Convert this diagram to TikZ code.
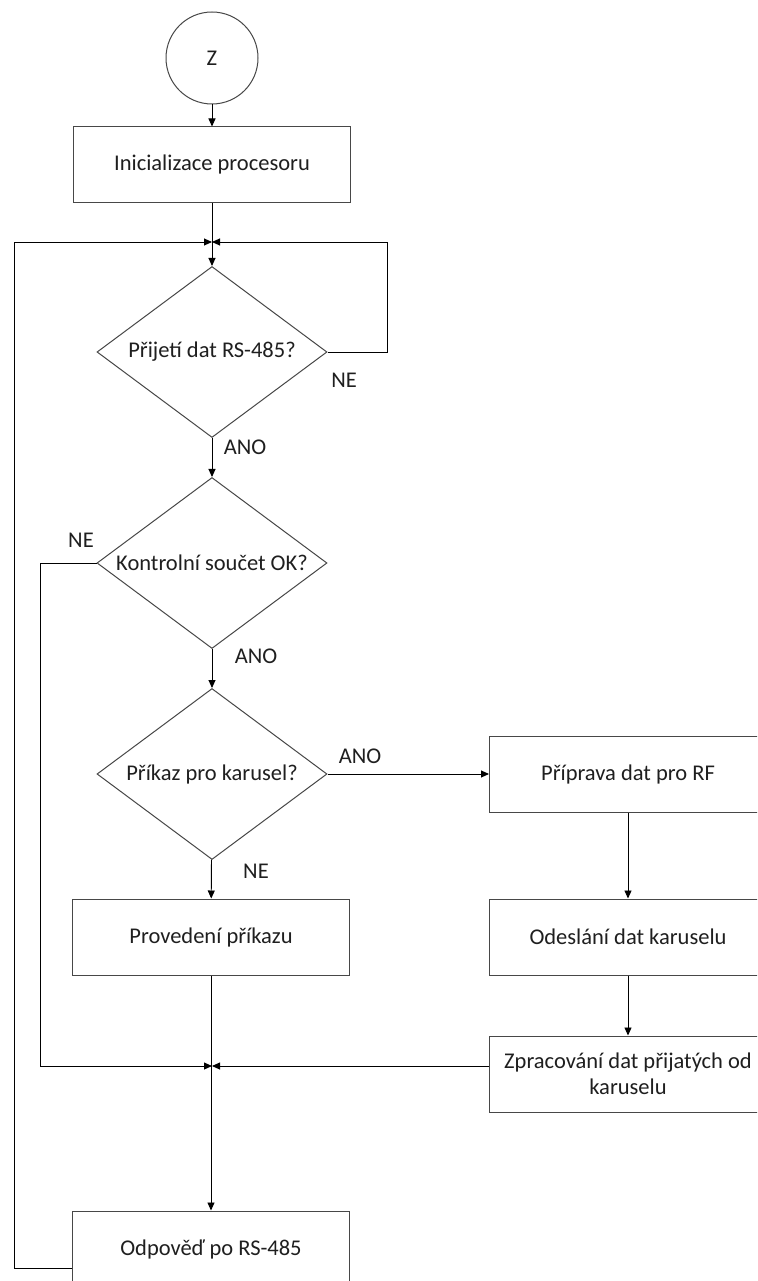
\documentclass[tikz,border=0pt]{standalone}
\usepackage{fontspec}
\setmainfont{Carlito}
\usetikzlibrary{shapes.geometric,arrows.meta,calc}

\tikzset{
  shapeline/.style={draw=black!72, line width=1pt},
  stepbox/.style={shapeline, rectangle, minimum width=277pt, minimum height=76pt,
    inner sep=2pt, align=center, text=black!88},
  decision/.style={shapeline, diamond, minimum width=230pt, minimum height=171pt,
    inner sep=0pt, aspect=1.35, text=black!88},
  terminal/.style={shapeline, circle, minimum size=92pt, inner sep=0pt, text=black!88},
  flow/.style={draw=black, line width=0.9pt, -{Triangle[length=8pt,width=7pt]}},
  lbl/.style={text=black!88, inner sep=0pt},
}

\begin{document}
\begin{tikzpicture}[x=1pt, y=-1pt, font=\fontsize{22.5pt}{26pt}\selectfont]
  \clip (0,0) rectangle (757,1281);
  \fill[white] (0,0) rectangle (757,1281);

  % main column
  \node[terminal] (z) at (212,58) {Z};
  \node[stepbox] (init) at (212,165) {Inicializace procesoru};
  \coordinate (j1) at (212,242);
  \node[decision] (d1) at (212,352) {Přijetí dat RS-485?};
  \node[decision] (d2) at (212,563) {Kontrolní součet OK?};
  \node[decision] (d3) at (212,774) {Příkaz pro karusel?};
  \node[stepbox] (prov) at (211,937) {Provedení příkazu};
  \coordinate (j2) at (212,1066);
  \node[stepbox] (odp) at (211,1249) {Odpověď po RS-485};

  % carousel branch
  \node[stepbox] (prip) at (628,774) {Příprava dat pro RF};
  \node[stepbox] (odes) at (628,937) {Odeslání dat karuselu};
  \node[stepbox] (zpr) at (628,1074) {Zpracování dat přijatých od\\karuselu};

  % straight flow
  \draw[flow] (z) -- (init);
  \draw[flow] (init) -- (d1);
  \draw[flow] (d1) -- (d2);
  \draw[flow] (d2) -- (d3);
  \draw[flow] (d3) -- (prov);
  \draw[flow] (d3) -- (prip);
  \draw[flow] (prip) -- (odes);
  \draw[flow] (odes) -- (zpr);
  \draw[flow] (prov) -- (odp);

  % loops into the junctions
  \draw[flow] (d1.east) -- (387,352) -- (387,242) -- (j1);
  \draw[flow] (odp.west |- 0,1268) -- (14,1268) -- (14,242) -- (j1);
  \draw[flow] (d2.west) -- (40,563) -- (40,1066) -- (j2);
  \draw[flow] (zpr.west |- j2) -- (j2);

  % branch labels
  \node[lbl] at (344,380) {NE};
  \node[lbl] at (245,447) {ANO};
  \node[lbl] at (81,540) {NE};
  \node[lbl] at (256,656) {ANO};
  \node[lbl] at (360,756) {ANO};
  \node[lbl] at (256,871) {NE};
\end{tikzpicture}
\end{document}
